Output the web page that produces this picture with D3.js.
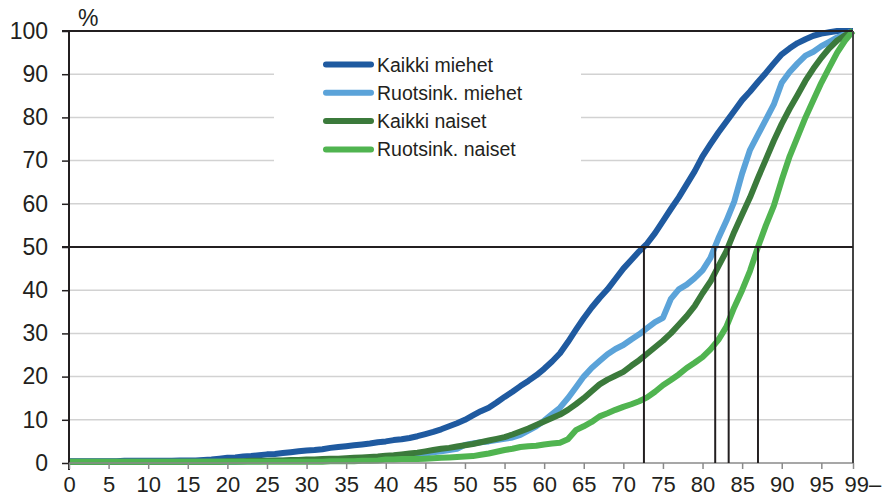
<!DOCTYPE html>
<html>
<head>
<meta charset="utf-8">
<script src="https://cdn.jsdelivr.net/npm/d3@7"></script>
<style>
  html, body { margin: 0; padding: 0; background: #fff; }
  svg { display: block; font-family: "Liberation Sans", Arial, sans-serif; }
</style>
</head>
<body>
<svg id="chart" width="885" height="497"></svg>
<script>
// ages 0..99 (last one is "99–")
const ages = d3.range(0, 100)
const xTicks = [0,5,10,15,20,25,30,35,40,45,50,55,60,65,70,75,80,85,90,95,99]
const yTicks = [0,10,20,30,40,50,60,70,80,90,100]

const seriesNames = ['Kaikki miehet', 'Ruotsink. miehet', 'Kaikki naiset', 'Ruotsink. naiset']

// cumulative share of deaths by age, %
const kaikkiMiehet = [
  0.4,0.4,0.4,0.4,0.4,0.4,0.4,0.5,0.5,0.5,
  0.5,0.5,0.5,0.5,0.6,0.6,0.6,0.7,0.8,1.0,
  1.2,1.3,1.5,1.6,1.8,2.0,2.1,2.3,2.5,2.7,
  2.9,3.0,3.2,3.5,3.7,3.9,4.1,4.3,4.5,4.8,
  5.0,5.3,5.5,5.8,6.2,6.7,7.2,7.8,8.5,9.2,
  10.0,11.0,12.0,12.8,14.0,15.3,16.5,17.8,19.0,20.3,
  21.8,23.5,25.4,28.0,30.8,33.5,36.0,38.2,40.2,42.6,
  45.0,47.0,49.0,50.8,53.2,56.0,58.8,61.5,64.5,67.5,
  71.0,73.8,76.5,79.0,81.5,84.0,86.0,88.2,90.3,92.5,
  94.6,96.0,97.2,98.1,98.9,99.4,99.7,100,100,100
]
const ruotsinkMiehet = [
  0.3,0.3,0.3,0.3,0.3,0.3,0.3,0.3,0.3,0.3,
  0.3,0.3,0.3,0.3,0.3,0.3,0.3,0.3,0.3,0.3,
  0.3,0.3,0.4,0.4,0.4,0.5,0.5,0.5,0.5,0.6,
  0.6,0.6,0.7,0.7,0.8,0.8,0.9,0.9,1.0,1.0,
  1.1,1.2,1.3,1.5,1.8,2.2,2.5,2.7,3.0,3.3,
  4.2,4.5,4.8,5.0,5.3,5.6,5.9,6.5,7.5,8.5,
  9.8,11.3,12.8,15.0,17.5,20.0,22.0,23.6,25.2,26.4,
  27.3,28.6,29.8,31.2,32.6,33.6,38.0,40.2,41.3,42.8,
  44.6,47.5,52.0,56.0,60.5,67.0,72.5,76.0,79.5,83.0,
  88.0,90.5,92.5,94.3,95.2,96.5,97.5,98.5,99.3,100
]
const kaikkiNaiset = [
  0.3,0.3,0.3,0.3,0.3,0.3,0.3,0.3,0.3,0.3,
  0.3,0.3,0.3,0.3,0.3,0.3,0.3,0.3,0.3,0.3,
  0.4,0.4,0.4,0.5,0.5,0.5,0.6,0.6,0.7,0.7,
  0.8,0.8,0.9,1.0,1.0,1.1,1.2,1.3,1.4,1.5,
  1.7,1.8,2.0,2.2,2.4,2.7,3.0,3.3,3.5,3.8,
  4.1,4.4,4.8,5.2,5.6,6.0,6.6,7.3,8.0,8.8,
  9.6,10.4,11.2,12.3,13.6,15.0,16.6,18.2,19.3,20.2,
  21.1,22.5,23.8,25.3,26.8,28.3,30.0,32.0,34.0,36.3,
  39.3,42.0,45.5,49.0,53.5,57.5,61.5,66.0,70.3,74.6,
  78.5,82.0,85.2,88.5,91.3,93.8,96.0,97.8,99.0,100
]
const ruotsinkNaiset = [
  0.3,0.3,0.3,0.3,0.3,0.3,0.3,0.3,0.3,0.3,
  0.3,0.3,0.3,0.3,0.3,0.3,0.3,0.3,0.3,0.3,
  0.3,0.3,0.3,0.3,0.3,0.3,0.3,0.3,0.3,0.3,
  0.3,0.3,0.3,0.4,0.4,0.4,0.4,0.5,0.5,0.6,
  0.8,0.8,0.9,0.9,0.9,1.0,1.1,1.2,1.3,1.4,
  1.5,1.6,1.9,2.2,2.6,3.0,3.3,3.7,3.9,4.0,
  4.3,4.5,4.7,5.5,7.6,8.5,9.5,10.8,11.5,12.3,
  13.0,13.6,14.3,15.2,16.5,18.0,19.2,20.5,22.0,23.2,
  24.5,26.3,28.5,31.5,36.0,40.0,44.5,50.0,55.0,59.5,
  65.5,71.0,75.5,80.0,84.0,88.0,91.5,95.0,97.8,100
]

// median ages (50 % line)
const medians = [72.6, 81.6, 83.3, 87.0]

const colors = ['#1f5aa0', '#5ba3d9', '#3b7a3b', '#50b450']
const textColor = '#231f20'

const svg = d3.select('#chart')
const x = d3.scaleLinear().domain([0, 99]).range([69, 853])
const y = d3.scaleLinear().domain([0, 100]).range([463, 31])

function drawGrid(g){
    // light gridlines
    yTicks.filter(v => v !== 0 && v !== 50 && v !== 100).forEach(v => {
        g.append('line')
        .attr('x1', x(0)).attr('x2', x(99))
        .attr('y1', y(v)).attr('y2', y(v))
        .attr('stroke', '#d2d2d2')
        .attr('stroke-width', 1.5)
    })
    // legend box hides the gridlines behind it
    g.append('rect')
    .attr('x', 274).attr('y', 48)
    .attr('width', 307).attr('height', 140)
    .attr('fill', '#fff')
}

function drawAxes(g){
    // y axis
    const yAxis = g.append('g')
    .attr('transform', `translate(${x(0)},0)`)
    .call(d3.axisLeft(y).tickValues(yTicks).tickSize(7).tickPadding(14))
    yAxis.select('.domain').attr('stroke', textColor).attr('stroke-width', 2)
        .attr('d', `M0,${y(100)}V${y(0) + 7}`)
    yAxis.selectAll('.tick line').attr('stroke', textColor).attr('stroke-width', 1.5)
    yAxis.selectAll('.tick text')
    .attr('fill', textColor)
    .attr('font-size', '23px')
    .attr('font-family', '"Liberation Sans", Arial, sans-serif')

    // x axis
    const xAxis = g.append('g')
    .attr('transform', `translate(0,${y(0)})`)
    .call(d3.axisBottom(x).tickValues(xTicks).tickSize(6).tickPadding(7)
        .tickFormat(d => d === 99 ? '99–' : d))
    xAxis.select('.domain').attr('stroke', '#8a8a8a').attr('stroke-width', 1.5)
        .attr('d', `M${x(0)},0H${x(99)}`)
    xAxis.selectAll('.tick line').attr('stroke', '#8a8a8a').attr('stroke-width', 1.5)
    xAxis.selectAll('.tick text')
    .attr('fill', textColor)
    .attr('font-size', '22px')
    .attr('font-family', '"Liberation Sans", Arial, sans-serif')
    xAxis.selectAll('.tick text').filter(d => d === 99)
    .attr('text-anchor', 'start')
    .attr('x', -9)

    // frame: top at 100 and right edge
    g.append('line')
    .attr('x1', x(0) - 7).attr('x2', x(99))
    .attr('y1', y(100)).attr('y2', y(100))
    .attr('stroke', textColor).attr('stroke-width', 2)
    g.append('line')
    .attr('x1', x(99)).attr('x2', x(99))
    .attr('y1', y(100)).attr('y2', y(0))
    .attr('stroke', '#444').attr('stroke-width', 2)

    g.append('text')
    .attr('x', 78).attr('y', 26)
    .attr('fill', textColor)
    .attr('font-size', '23px')
    .text('%')
}

function drawLines(g){
    const allSeries = [kaikkiMiehet, ruotsinkMiehet, kaikkiNaiset, ruotsinkNaiset]
    const line = d3.line()
    .x((d, i) => x(ages[i]))
    .y(d => y(d))
    allSeries.forEach((vals, idx) => {
        g.append('path')
        .datum(vals)
        .attr('d', line)
        .attr('fill', 'none')
        .attr('stroke', colors[idx])
        .attr('stroke-width', 6)
        .attr('stroke-linejoin', 'round')
    })
}

function drawMedians(g){
    g.append('line')
    .attr('x1', x(0) - 7).attr('x2', x(99))
    .attr('y1', y(50)).attr('y2', y(50))
    .attr('stroke', textColor).attr('stroke-width', 2)
    medians.forEach(m => {
        g.append('line')
        .attr('x1', x(m)).attr('x2', x(m))
        .attr('y1', y(50)).attr('y2', y(0))
        .attr('stroke', textColor).attr('stroke-width', 2)
    })
}

function drawLegend(g){
    seriesNames.forEach((name, idx) => {
        const ly = 64.5 + idx * 28.3
        g.append('line')
        .attr('x1', 326).attr('x2', 371)
        .attr('y1', ly).attr('y2', ly)
        .attr('stroke', colors[idx])
        .attr('stroke-width', 6)
        .attr('stroke-linecap', 'round')
        g.append('text')
        .attr('x', 377).attr('y', ly)
        .attr('dy', '0.36em')
        .attr('fill', textColor)
        .attr('font-size', '19.5px')
        .text(name)
    })
}

const g = svg.append('g')
drawGrid(g)
drawLines(g)
drawAxes(g)
drawMedians(g)
drawLegend(g)
</script>
</body>
</html>
